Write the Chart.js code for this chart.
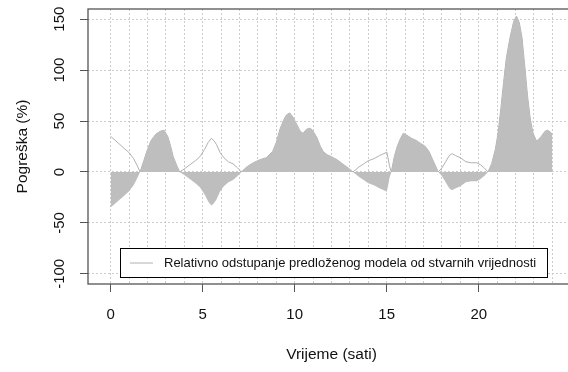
<!DOCTYPE html>
<html>
<head>
<meta charset="utf-8">
<script src="https://cdn.jsdelivr.net/npm/chart.js@4/dist/chart.umd.min.js"></script>
<style>
  html, body { margin: 0; padding: 0; background: #fff; overflow: hidden; }
  #wrap { width: 576px; height: 372px; }
</style>
</head>
<body>
<div id="wrap"><canvas id="chart" width="576" height="372"></canvas></div>
<script>
// ===============================
// Podaci (procijenjeno sa slike)
// ===============================
const hours = [
  0, 0.25, 0.5, 0.75, 1.0, 1.25, 1.45, 1.6, 1.8, 2.0, 2.2, 2.45, 2.7, 2.9, 3.1, 3.25, 3.4, 3.6, 3.75,
  4.0, 4.3, 4.6, 4.85, 5.1, 5.3, 5.47, 5.6, 5.75, 5.95, 6.15, 6.4, 6.65, 6.9, 7.1,
  7.4, 7.75, 8.1, 8.45, 8.8, 9.0, 9.2, 9.4, 9.55, 9.73, 9.9, 10.1, 10.3, 10.45, 10.65, 10.85, 11.0,
  11.2, 11.4, 11.55, 11.75, 12.0, 12.3, 12.6, 12.9, 13.17,
  13.5, 13.75, 14.0, 14.3, 14.6, 14.85, 15.0, 15.07, 15.15, 15.25,
  15.4, 15.55, 15.75, 15.9, 16.1, 16.35, 16.6, 16.85, 17.1, 17.3, 17.5, 17.65, 17.8,
  18.0, 18.2, 18.4, 18.55, 18.75, 19.0, 19.3, 19.6, 19.9, 20.1, 20.3, 20.5,
  20.7, 20.9, 21.05, 21.2, 21.35, 21.5, 21.7, 21.9, 22.05, 22.2, 22.35, 22.5, 22.65, 22.8, 22.95,
  23.15, 23.4, 23.6, 23.75, 23.9, 24.0
];
const errors = [
  -35, -31, -27, -23, -19, -13, -6, 0, 11, 22, 31, 37, 40, 41, 35, 26, 15, 6, 0,
  -3, -7, -11, -15, -22, -29, -33, -31, -27, -19, -14, -10, -8, -4, 0,
  5, 9, 12, 14, 20, 29, 42, 51, 56, 58, 54, 47, 40, 38, 42, 43, 40,
  34, 25, 20, 17, 15, 12, 8, 4, 0,
  -5, -8, -11, -13, -16, -18, -19.5, -14, -6, 0,
  14, 24, 33, 38, 36, 33, 31, 28, 25, 20, 12, 6, 0,
  -4, -10, -16, -18, -16, -14, -10, -9, -9, -7, -4, 0,
  8, 22, 38, 62, 88, 112, 132, 148, 153, 147, 132, 104, 75, 52, 38,
  30, 35, 40, 41, 39, 37
];
const xTickLabels = [0, 5, 10, 15, 20];
const xGridHours = [0, 1, 2, 3, 4, 5, 6, 7, 8, 9, 10, 11, 12, 13, 14, 15, 16, 17, 18, 19, 20, 21, 22, 23, 24];
const yTickLabels = [-100, -50, 0, 50, 100, 150];
const legendText = "Relativno odstupanje predloženog modela od stvarnih vrijednosti";

// ===============================
// Helpers
// ===============================
const fillPoints = hours.map((h, i) => ({ x: h, y: errors[i] }));
const linePoints = hours.map((h, i) => ({ x: h, y: Math.abs(errors[i]) }));

const axisColor = "#555555";
const gridColor = "#cccccc";
const textColor = "#111111";
const fontFamily = "Arial, 'Liberation Sans', sans-serif";
const clear = "rgba(0,0,0,0)";

// okvir grafa + legenda
const framePlugin = {
  id: "frameAndLegend",
  afterDraw(chart) {
    const { ctx, chartArea } = chart;
    ctx.save();
    ctx.strokeStyle = axisColor;
    ctx.lineWidth = 1.3;
    ctx.strokeRect(chartArea.left, chartArea.top, chartArea.right - chartArea.left, chartArea.bottom - chartArea.top);

    // legenda
    const bx = 120.5, by = 248.5, bw = 427, bh = 29;
    ctx.fillStyle = "#ffffff";
    ctx.fillRect(bx, by, bw, bh);
    ctx.strokeStyle = "#000000";
    ctx.lineWidth = 1;
    ctx.strokeRect(bx, by, bw, bh);
    ctx.strokeStyle = "#b0b0b0";
    ctx.beginPath();
    ctx.moveTo(130, by + bh / 2);
    ctx.lineTo(153, by + bh / 2);
    ctx.stroke();
    ctx.fillStyle = textColor;
    ctx.font = "13px " + fontFamily;
    ctx.textBaseline = "middle";
    ctx.textAlign = "left";
    ctx.fillText(legendText, 164, by + bh / 2 + 0.5);
    ctx.restore();
  }
};

new Chart(document.getElementById("chart").getContext("2d"), {
  type: "line",
  data: {
    datasets: [
      {
        label: "Pogreška",
        data: fillPoints,
        borderWidth: 0,
        borderColor: clear,
        backgroundColor: "#bebebe",
        fill: "origin",
        pointRadius: 0,
        tension: 0
      },
      {
        label: legendText,
        data: linePoints,
        borderWidth: 1,
        borderColor: "#b0b0b0",
        fill: false,
        pointRadius: 0,
        tension: 0
      }
    ]
  },
  options: {
    responsive: false,
    animation: false,
    layout: { padding: { top: 9, right: 1, left: 0, bottom: 0 } },
    plugins: {
      legend: { display: false },
      tooltip: { enabled: false }
    },
    scales: {
      x: {
        type: "linear",
        min: -1.23,
        max: 25.23,
        afterBuildTicks: (scale) => { scale.ticks = xGridHours.map(v => ({ value: v })); },
        afterFit: (scale) => {
          scale.height = 88;
          scale.paddingLeft = 0;
          scale.paddingRight = 0;
        },
        ticks: {
          autoSkip: false,
          maxRotation: 0,
          padding: 14,
          color: textColor,
          font: { family: fontFamily, size: 15 },
          callback: (v) => xTickLabels.includes(v) ? String(v) : ""
        },
        grid: {
          color: gridColor,
          tickColor: (c) => (c.tick && xTickLabels.includes(c.tick.value)) ? axisColor : clear,
          tickLength: 8,
          lineWidth: 1
        },
        border: { display: false, dash: [2, 2] },
        title: {
          display: true,
          text: "Vrijeme (sati)",
          color: textColor,
          font: { family: fontFamily, size: 15.5 },
          padding: { bottom: 8, top: 0 }
        }
      },
      y: {
        type: "linear",
        min: -110,
        max: 160,
        afterBuildTicks: (scale) => { scale.ticks = yTickLabels.map(v => ({ value: v })); },
        afterFit: (scale) => {
          scale.width = 88;
          scale.paddingTop = 0;
          scale.paddingBottom = 0;
        },
        ticks: {
          autoSkip: false,
          minRotation: 90,
          maxRotation: 90,
          crossAlign: "center",
          padding: 5,
          color: textColor,
          font: { family: fontFamily, size: 15 },
          callback: (v) => String(v)
        },
        grid: {
          color: gridColor,
          tickColor: axisColor,
          tickLength: 8,
          lineWidth: 1
        },
        border: { display: false, dash: [2, 2] },
        title: {
          display: true,
          text: "Pogreška (%)",
          color: textColor,
          font: { family: fontFamily, size: 15.5 },
          padding: { top: 13, bottom: 0 }
        }
      }
    }
  },
  plugins: [framePlugin]
});
</script>
</body>
</html>
